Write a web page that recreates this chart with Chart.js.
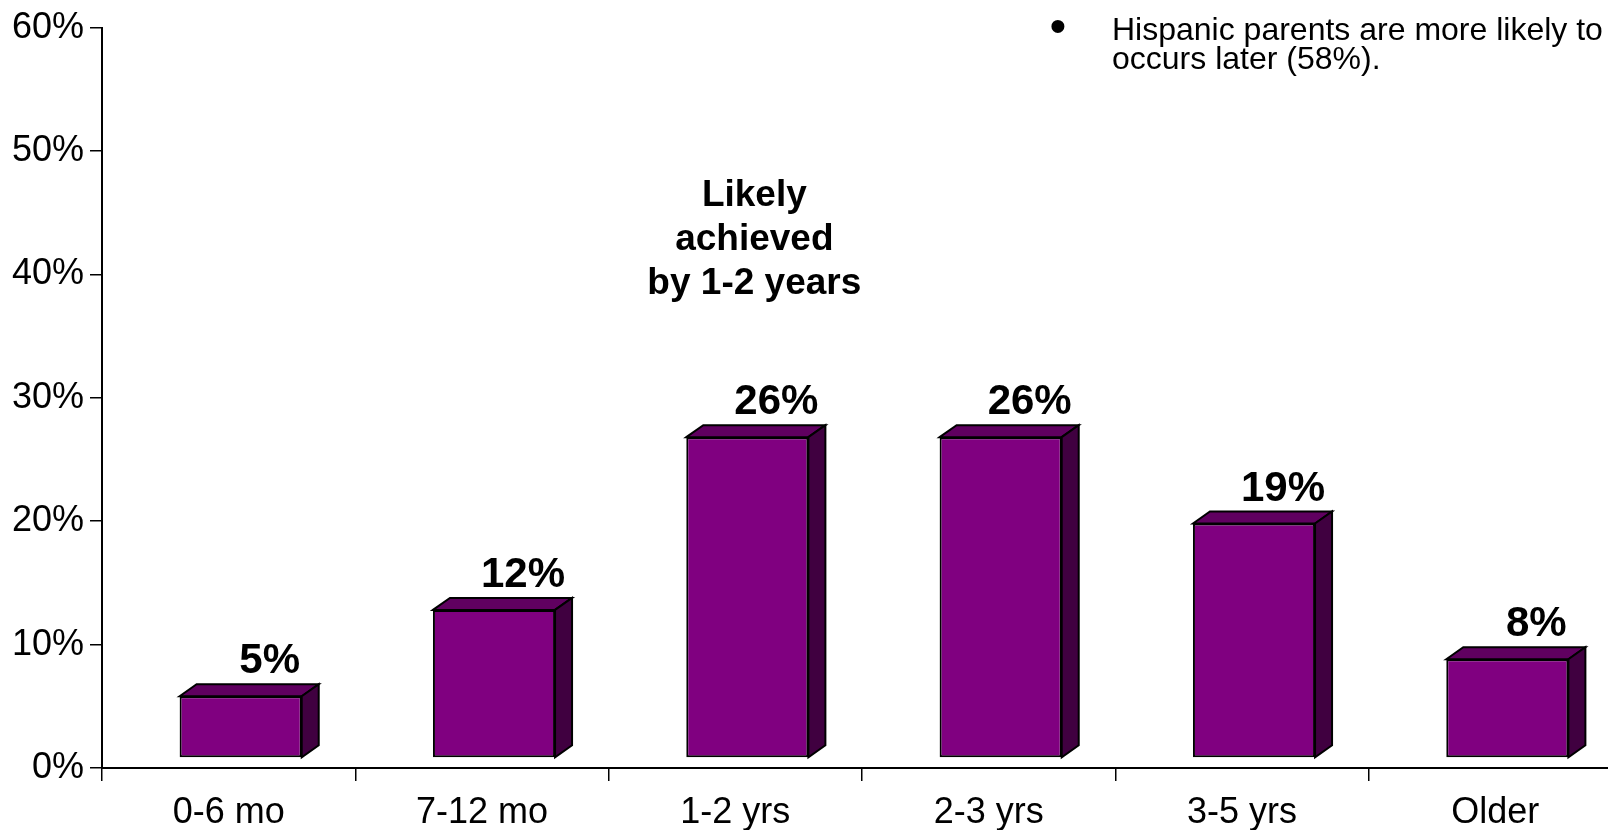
<!DOCTYPE html>
<html>
<head>
<meta charset="utf-8">
<script src="https://cdn.jsdelivr.net/npm/chart.js@4.4.1/dist/chart.umd.min.js"></script>
<style>
  html, body { margin: 0; padding: 0; background: #fff; overflow: hidden; }
  #wrap { position: relative; width: 1640px; height: 830px; }
</style>
</head>
<body>
<div id="wrap"><canvas id="barChart"></canvas></div>
<script>
// age when achieved, share of parents
var ageGroups = ['0-6 mo', '7-12 mo', '1-2 yrs', '2-3 yrs', '3-5 yrs', 'Older'];
var shares = [5, 12, 26, 26, 19, 8];
var axisTicks = [0, 10, 20, 30, 40, 50, 60];
var noteLines = ['Hispanic parents are more likely to', 'occurs later (58%).'];
var calloutLines = ['Likely', 'achieved', 'by 1-2 years'];

var FONT = '"Liberation Sans", Arial, sans-serif';
var FRONT = '#800080', TOP = '#600060', SIDE = '#400040';
// 3d depth of the columns and how far they sit back from the axis
var DEPTH_X = 17, DEPTH_Y = 12, SHIFT_X = 12, SHIFT_Y = -10;

var column3d = {
    id: 'column3d',
    beforeDatasetsDraw: function (chart) {
        var ctx = chart.ctx;
        ctx.save();
        ctx.translate(SHIFT_X, SHIFT_Y);
        chart.getDatasetMeta(0).data.forEach(function (bar) {
            var l = bar.x - bar.width / 2, r = bar.x + bar.width / 2;
            var t = bar.y, b = bar.base;
            ctx.lineWidth = 2;
            ctx.strokeStyle = '#000';
            ctx.lineJoin = 'miter';
            // top face
            ctx.beginPath();
            ctx.moveTo(l, t);
            ctx.lineTo(l + DEPTH_X, t - DEPTH_Y);
            ctx.lineTo(r + DEPTH_X, t - DEPTH_Y);
            ctx.lineTo(r, t);
            ctx.closePath();
            ctx.fillStyle = TOP;
            ctx.fill();
            ctx.stroke();
            // side face
            ctx.beginPath();
            ctx.moveTo(r, t);
            ctx.lineTo(r + DEPTH_X, t - DEPTH_Y);
            ctx.lineTo(r + DEPTH_X, b - DEPTH_Y);
            ctx.lineTo(r, b);
            ctx.closePath();
            ctx.fillStyle = SIDE;
            ctx.fill();
            ctx.stroke();
        });
        // front faces are drawn by chart.js inside this translated context
    },
    afterDatasetsDraw: function (chart) {
        var ctx = chart.ctx;
        ctx.restore();
        ctx.save();
        ctx.fillStyle = '#000';
        ctx.textAlign = 'center';
        ctx.textBaseline = 'alphabetic';
        ctx.font = 'bold 42px ' + FONT;
        chart.getDatasetMeta(0).data.forEach(function (bar, i) {
            ctx.fillText(shares[i] + '%', bar.x + 41, bar.y - 33);
        });

        // callout over the 1-2 yrs column
        var cx = chart.scales.x.getPixelForValue(2) + 19;
        ctx.font = 'bold 37px ' + FONT;
        calloutLines.forEach(function (line, i) {
            ctx.fillText(line, cx, 206 + i * 44);
        });

        // bullet note, top right
        ctx.font = '48px ' + FONT;
        ctx.textBaseline = 'middle';
        ctx.fillText('\u2022', 1058, 29);
        ctx.font = '32px ' + FONT;
        ctx.textAlign = 'left';
        ctx.textBaseline = 'alphabetic';
        noteLines.forEach(function (line, i) {
            ctx.fillText(line, 1112, 40 + i * 29);
        });
        ctx.restore();
    }
};

var ctx = document.getElementById('barChart').getContext('2d');
var myChart = new Chart(ctx, {
    type: 'bar',
    data: {
        labels: ageGroups,
        datasets: [{
            data: shares,
            backgroundColor: FRONT,
            borderColor: '#000',
            borderWidth: 2,
            borderSkipped: false,
            barPercentage: 0.482,
            categoryPercentage: 1.0
        }]
    },
    options: {
        responsive: true,
        maintainAspectRatio: false,
        animation: false,
        clip: false,
        layout: { padding: { top: 24, right: 18, left: 0, bottom: 0 } },
        plugins: {
            legend: { display: false },
            tooltip: { enabled: false }
        },
        scales: {
            x: {
                grid: { offset: true, drawOnChartArea: false, tickLength: 13, color: '#000', lineWidth: 1.5 },
                border: { display: true, color: '#000', width: 2 },
                ticks: { color: '#000', font: { family: FONT, size: 36 }, padding: 10, maxRotation: 0 },
                afterFit: function (scale) { scale.height = 62; }
            },
            y: {
                min: 0,
                max: 60,
                afterBuildTicks: function (scale) {
                    scale.ticks = axisTicks.map(function (v) { return { value: v }; });
                },
                grid: { drawOnChartArea: false, tickLength: 12, color: '#000', lineWidth: 1.5 },
                border: { display: true, color: '#000', width: 2 },
                ticks: {
                    color: '#000',
                    font: { family: FONT, size: 36 },
                    padding: 6,
                    callback: function (v) { return v + '%'; }
                },
                afterFit: function (scale) { scale.width = 102; }
            }
        }
    },
    plugins: [column3d]
});
</script>
</body>
</html>
